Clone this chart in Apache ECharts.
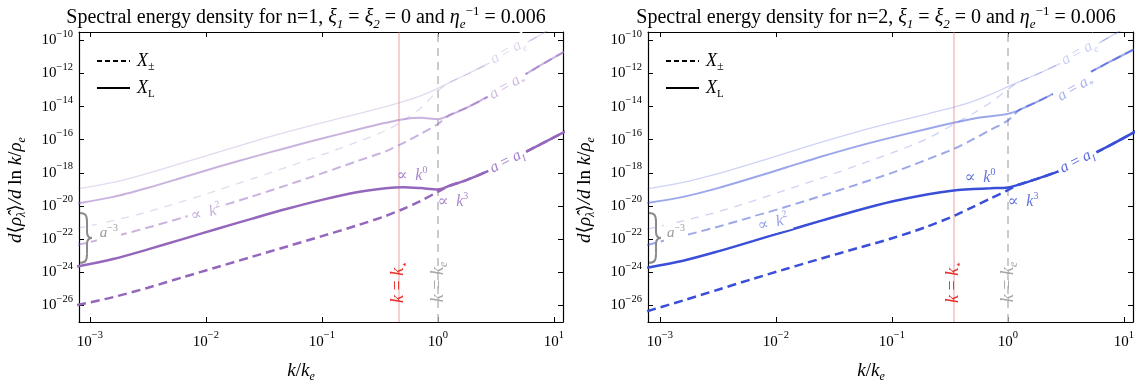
<!DOCTYPE html>
<html>
<head>
<meta charset="utf-8">
<script src="https://cdn.jsdelivr.net/npm/echarts@6/dist/echarts.min.js"></script>
<style>
html, body { margin: 0; padding: 0; background: #fff; }
#chart { width: 1136px; height: 383px; }
</style>
</head>
<body>
<div id="chart"></div>
<script>
var SERIF = '"Liberation Serif", "DejaVu Serif", serif';

// x = log10(k/k_e), shared by every curve
var logK = [-3.11, -2.8, -2.5, -2.2, -1.9, -1.6, -1.3, -1.0, -0.7, -0.45, -0.3, -0.15, 0, 0.1, 0.25, 0.45, 0.65, 0.85, 1.1];

// n=1, log10 of d<rho>/dlnk/rho_e  (L = solid X_L, Pm = dashed X_pm)
var n1LI     = [-23.65, -23.2, -22.62, -22.0, -21.37, -20.76, -20.17, -19.63, -19.17, -18.93, -18.87, -18.92, -19.0, -18.78, -18.42, -17.83, -17.12, -16.4, -15.5];
var n1PmI    = [-25.98, -25.5, -24.93, -24.3, -23.68, -23.06, -22.44, -21.82, -21.18, -20.6, -20.18, -19.7, -19.14, -18.78, -18.42, -17.83, -17.12, -16.4, -15.5];
var n1LStar  = [-19.85, -19.45, -18.9, -18.28, -17.65, -17.05, -16.48, -15.93, -15.4, -14.98, -14.76, -14.68, -14.76, -14.52, -14.06, -13.33, -12.5, -11.65, -10.65];
var n1PmStar = [-22.35, -21.85, -21.3, -20.7, -20.07, -19.42, -18.74, -18.03, -17.3, -16.7, -16.2, -15.65, -15.05, -14.52, -14.06, -13.33, -12.5, -11.65, -10.65];
var n1LE     = [-18.97, -18.58, -18.03, -17.4, -16.76, -16.13, -15.53, -14.98, -14.45, -14.0, -13.7, -13.35, -12.9, -12.55, -12.05, -11.35, -10.6, -9.8, -8.8];
var n1PmE    = [-21.35, -20.88, -20.35, -19.72, -19.05, -18.36, -17.65, -16.92, -16.15, -15.45, -14.85, -14.1, -13.05, -12.55, -12.05, -11.35, -10.6, -9.8, -8.8];

// n=2
var n2LI     = [-23.72, -23.3, -22.74, -22.12, -21.49, -20.87, -20.27, -19.73, -19.3, -19.05, -18.98, -18.93, -18.88, -18.7, -18.36, -17.86, -17.15, -16.45, -15.5];
var n2PmI    = [-26.35, -25.7, -25.05, -24.4, -23.77, -23.15, -22.55, -21.95, -21.25, -20.55, -20.05, -19.55, -19.04, -18.7, -18.36, -17.86, -17.15, -16.45, -15.5];
var n2LStar  = [-19.82, -19.45, -18.92, -18.3, -17.65, -17.0, -16.4, -15.86, -15.35, -14.95, -14.73, -14.58, -14.44, -14.2, -13.72, -13.0, -12.15, -11.4, -10.5];
var n2PmStar = [-22.35, -21.8, -21.25, -20.65, -20.02, -19.37, -18.7, -18.0, -17.2, -16.5, -15.97, -15.4, -14.84, -14.2, -13.72, -13.0, -12.15, -11.4, -10.5];
var n2LE     = [-18.97, -18.58, -18.05, -17.43, -16.78, -16.13, -15.52, -14.97, -14.45, -14.0, -13.68, -13.27, -12.8, -12.5, -12.05, -11.4, -10.7, -9.9, -8.9];
var n2PmE    = [-21.4, -20.9, -20.35, -19.7, -19.0, -18.3, -17.55, -16.8, -15.95, -15.0, -14.42, -13.75, -12.96, -12.5, -12.05, -11.4, -10.7, -9.9, -8.9];

var xTicks = [-3, -2, -1, 0, 1];
var yTicks = [-26, -24, -22, -20, -18, -16, -14, -12, -10];
var kStarLog = [-0.339, -0.474];   // log10(k_*/k_e) for n=1, n=2

var panels = [
    {n: 1, color: [148, 103, 189], curves: [n1LE, n1PmE, n1LStar, n1PmStar, n1LI, n1PmI], left: 79, width: 484, xmin: -3.094, xmax: 1.078, mid: 301},
    {n: 2, color: [58, 79, 215], curves: [n2LE, n2PmE, n2LStar, n2PmStar, n2LI, n2PmI], left: 648, width: 485, xmin: -3.103, xmax: 1.078, mid: 871}
];

function rgba(c, a) { return 'rgba(' + c[0] + ',' + c[1] + ',' + c[2] + ',' + a + ')'; }
function toPairs(vals) { return logK.map(function (x, i) { return [x, vals[i]]; }); }
function expLabel(v) { return '{b|10}{s|' + String(v).replace('-', '\u2212') + '}'; }

var tickRich = {
    b: {fontFamily: SERIF, fontSize: 15, color: '#000', lineHeight: 24},
    s: {fontFamily: SERIF, fontSize: 10.5, color: '#000', verticalAlign: 'top', lineHeight: 14}
};

var grids = [], xAxes = [], yAxes = [], series = [], titles = [];
var GTOP = 32, GH = 290;

panels.forEach(function (p, pi) {
    grids.push({left: p.left, top: GTOP, width: p.width, height: GH, outerBoundsMode: 'none'});
    var frame = {lineStyle: {color: '#000', width: 1.2}, onZero: false};
    xAxes.push({
        gridIndex: pi, type: 'value', min: p.xmin, max: p.xmax, position: 'bottom',
        axisLine: frame, splitLine: {show: false},
        axisTick: {inside: true, length: 5, customValues: xTicks, lineStyle: {color: '#000'}},
        axisLabel: {customValues: xTicks, formatter: expLabel, rich: tickRich, margin: 8}
    });
    xAxes.push({
        gridIndex: pi, type: 'value', min: p.xmin, max: p.xmax, position: 'top',
        axisLine: frame, splitLine: {show: false},
        axisTick: {inside: true, length: 5, customValues: xTicks, lineStyle: {color: '#000'}},
        axisLabel: {show: false}
    });
    yAxes.push({
        gridIndex: pi, type: 'value', min: -27, max: -9.5, position: 'left',
        axisLine: frame, splitLine: {show: false},
        axisTick: {inside: true, length: 5, customValues: yTicks, lineStyle: {color: '#000'}},
        axisLabel: {customValues: yTicks, formatter: expLabel, rich: tickRich, margin: 6}
    });
    yAxes.push({
        gridIndex: pi, type: 'value', min: -27, max: -9.5, position: 'right',
        axisLine: frame, splitLine: {show: false},
        axisTick: {inside: true, length: 5, customValues: yTicks, lineStyle: {color: '#000'}},
        axisLabel: {show: false}
    });

    // vertical reference lines k = k_* and k = k_e
    series.push({
        type: 'line', xAxisIndex: pi * 2, yAxisIndex: pi * 2, data: [], z: 1, silent: true,
        markLine: {
            symbol: 'none', silent: true, animation: false, label: {show: false},
            data: [
                {xAxis: kStarLog[pi], lineStyle: {color: 'rgba(225,120,120,0.35)', width: 2, type: 'solid'}},
                {xAxis: 0, lineStyle: {color: '#bbbbbb', width: 1.5, type: [8, 6]}}
            ]
        }
    });

    var alphas = [0.25, 0.25, 0.5, 0.5, 1, 1];
    var widths = [1.3, 1.3, 2, 2, 2.5, 2.5];
    var dashes = ['solid', [8, 7], 'solid', [9, 5], 'solid', [9, 5]];
    p.curves.forEach(function (vals, ci) {
        series.push({
            type: 'line', xAxisIndex: pi * 2, yAxisIndex: pi * 2,
            data: toPairs(vals), showSymbol: false, symbol: 'none', smooth: 0.3,
            clip: true, animation: false, z: 2 + ci,
            lineStyle: {color: rgba(p.color, alphas[ci]), width: widths[ci], type: dashes[ci]}
        });
    });

    titles.push({
        text: '{t|Spectral energy density for n=' + p.n + ', }{i|\u03be}{sub|1}{t| = }{i|\u03be}{sub|2}{t| = 0 and }{i|\u03b7}{sub|e}{sup|\u22121}{t| = 0.006}',
        left: p.mid, top: 0, textAlign: 'center'
    });
});

var titleRich = {
    t: {fontFamily: SERIF, fontWeight: 'normal', fontSize: 20, color: '#000', lineHeight: 26},
    i: {fontFamily: SERIF, fontWeight: 'normal', fontStyle: 'italic', fontSize: 20, color: '#000', lineHeight: 26},
    sub: {fontFamily: SERIF, fontWeight: 'normal', fontStyle: 'italic', fontSize: 13, color: '#000', verticalAlign: 'bottom', lineHeight: 15},
    sup: {fontFamily: SERIF, fontWeight: 'normal', fontSize: 13, color: '#000', verticalAlign: 'top', lineHeight: 15}
};
titles.forEach(function (t) { t.textStyle = {fontWeight: 'normal', rich: titleRich}; });

var chart = echarts.init(document.getElementById('chart'), null, {renderer: 'canvas'});
chart.setOption({
    animation: false,
    backgroundColor: '#fff',
    title: titles,
    grid: grids,
    xAxis: xAxes,
    yAxis: yAxes,
    series: series
});

// annotations placed in data coordinates: [logk, logrho, text, alpha, rotation deg, white box]
var notes = [
    [
        [-0.224, -18.19, '\u221d  {i|k}{sup|0}', 0.8, 0, false],
        [0.129, -19.76, '\u221d  {i|k}{sup|3}', 0.8, 0, false],
        [0.595, -17.29, '{i|a} = {i|a}{sub|I}', 0.85, 27, true],
        [0.595, -12.77, '{i|a} = {i|a}{sub|*}', 0.45, 31, true],
        [0.603, -10.66, '{i|a} = {i|a}{sub|e}', 0.28, 29, true],
        [-2.0, -20.42, '\u221d  {i|k}{sup|2}', 0.55, 14, true]
    ],
    [
        [-0.241, -18.31, '\u221d  {i|k}{sup|0}', 0.8, 0, false],
        [0.129, -19.76, '\u221d  {i|k}{sup|3}', 0.8, 0, false],
        [0.595, -17.29, '{i|a} = {i|a}{sub|I}', 0.85, 27, true],
        [0.578, -12.89, '{i|a} = {i|a}{sub|*}', 0.45, 30, true],
        [0.612, -10.72, '{i|a} = {i|a}{sub|e}', 0.28, 29, true],
        [-2.026, -21.02, '\u221d  {i|k}{sup|2}', 0.55, 14, true]
    ]
];

function px(pi, x, y) { return chart.convertToPixel({gridIndex: pi}, [x, y]); }
function mathStyle(col, size) {
    return {
        i: {fontFamily: SERIF, fontStyle: 'italic', fontSize: size, fill: col, lineHeight: size + 5},
        r: {fontFamily: SERIF, fontSize: size, fill: col, lineHeight: size + 5},
        sub: {fontFamily: SERIF, fontStyle: 'italic', fontSize: Math.round(size * 0.65), fill: col, verticalAlign: 'bottom', lineHeight: Math.round(size * 0.75)},
        rs: {fontFamily: SERIF, fontSize: Math.round(size * 0.6), fill: col, verticalAlign: 'bottom', lineHeight: Math.round(size * 0.7)},
        sup: {fontFamily: SERIF, fontSize: Math.round(size * 0.65), fill: col, verticalAlign: 'top', lineHeight: Math.round(size * 0.75)}
    };
}
function mathText(x, y, text, col, size, rot, align, bg) {
    return {
        type: 'text', x: x, y: y, rotation: (rot || 0) * Math.PI / 180, z: 50,
        style: {
            text: text, fill: col, align: align || 'center', verticalAlign: 'middle',
            font: size + 'px ' + SERIF, rich: mathStyle(col, size),
            backgroundColor: bg ? '#fff' : null, padding: bg ? [0, 3] : 0
        }
    };
}

var graphics = [];
panels.forEach(function (p, pi) {
    notes[pi].forEach(function (n) {
        var pt = px(pi, n[0], n[1]);
        graphics.push(mathText(pt[0], pt[1], n[2], rgba(p.color, n[3]), 16, n[4], 'center', n[5]));
    });

    // k = k_* and k = k_e labels
    var ks = px(pi, kStarLog[pi], -24.58), ke = px(pi, 0, -24.58);
    graphics.push(mathText(ks[0], ks[1], '{i|k} = {i|k}{rs|\u22c6}', '#e8302c', 18, 90));
    graphics.push(mathText(ke[0], ke[1], '{i|k} = {i|k}{sub|e}', '#a8a8a8', 18, 90));

    // axis titles
    graphics.push(mathText(p.mid, 371, '{i|k}{r|/}{i|k}{sub|e}', '#000', 19));
    graphics.push(mathText(p.left - 63, 190,
        '{i|d}{r|\u27e8}{i|\u03c1\u0302}{sub|\u03bb}{r|\u27e9}{i|/d} {r|ln} {i|k}{r|/}{i|\u03c1}{sub|e}', '#000', 19, 90));

    // brace and a^-3
    var top = px(pi, p.xmin, -20.42), bot = px(pi, p.xmin, -23.43);
    var x0 = top[0] + 1, y0 = top[1], h = bot[1] - top[1], m = h / 2;
    var br = {stroke: '#8a8a8a', lineWidth: 2, fill: null};
    graphics.push({type: 'bezierCurve', z: 50, style: br, shape: {x1: x0, y1: y0, x2: x0 + 7, y2: y0 + 9, cpx1: x0 + 6, cpy1: y0, cpx2: x0 + 7, cpy2: y0 + 3}});
    graphics.push({type: 'line', z: 50, style: br, shape: {x1: x0 + 7, y1: y0 + 9, x2: x0 + 7, y2: y0 + m - 6}});
    graphics.push({type: 'bezierCurve', z: 50, style: br, shape: {x1: x0 + 7, y1: y0 + m - 6, x2: x0 + 12, y2: y0 + m, cpx1: x0 + 7, cpy1: y0 + m - 2, cpx2: x0 + 9, cpy2: y0 + m}});
    graphics.push({type: 'bezierCurve', z: 50, style: br, shape: {x1: x0 + 12, y1: y0 + m, x2: x0 + 7, y2: y0 + m + 6, cpx1: x0 + 9, cpy1: y0 + m, cpx2: x0 + 7, cpy2: y0 + m + 2}});
    graphics.push({type: 'line', z: 50, style: br, shape: {x1: x0 + 7, y1: y0 + m + 6, x2: x0 + 7, y2: y0 + h - 9}});
    graphics.push({type: 'bezierCurve', z: 50, style: br, shape: {x1: x0 + 7, y1: y0 + h - 9, x2: x0, y2: y0 + h, cpx1: x0 + 7, cpy1: y0 + h - 3, cpx2: x0 + 6, cpy2: y0 + h}});
    var ap = px(pi, pi === 0 ? -2.836 : -2.862, -21.63);
    graphics.push(mathText(ap[0], ap[1], '{i|a}{sup|\u22123}', '#9a9a9a', 15, 0, 'center', true));

    // legend
    [[61, [5, 3], '{i|X}{sub|\u00b1}'], [88, null, '{i|X}{rs|L}']].forEach(function (r) {
        graphics.push({
            type: 'line', z: 50,
            shape: {x1: p.left + 18, y1: r[0], x2: p.left + 51, y2: r[0]},
            style: {stroke: '#000', lineWidth: 2, lineDash: r[1]}
        });
        graphics.push(mathText(p.left + 58, r[0], r[2], '#000', 18, 0, 'left'));
    });
});

chart.setOption({graphic: graphics});
</script>
</body>
</html>
